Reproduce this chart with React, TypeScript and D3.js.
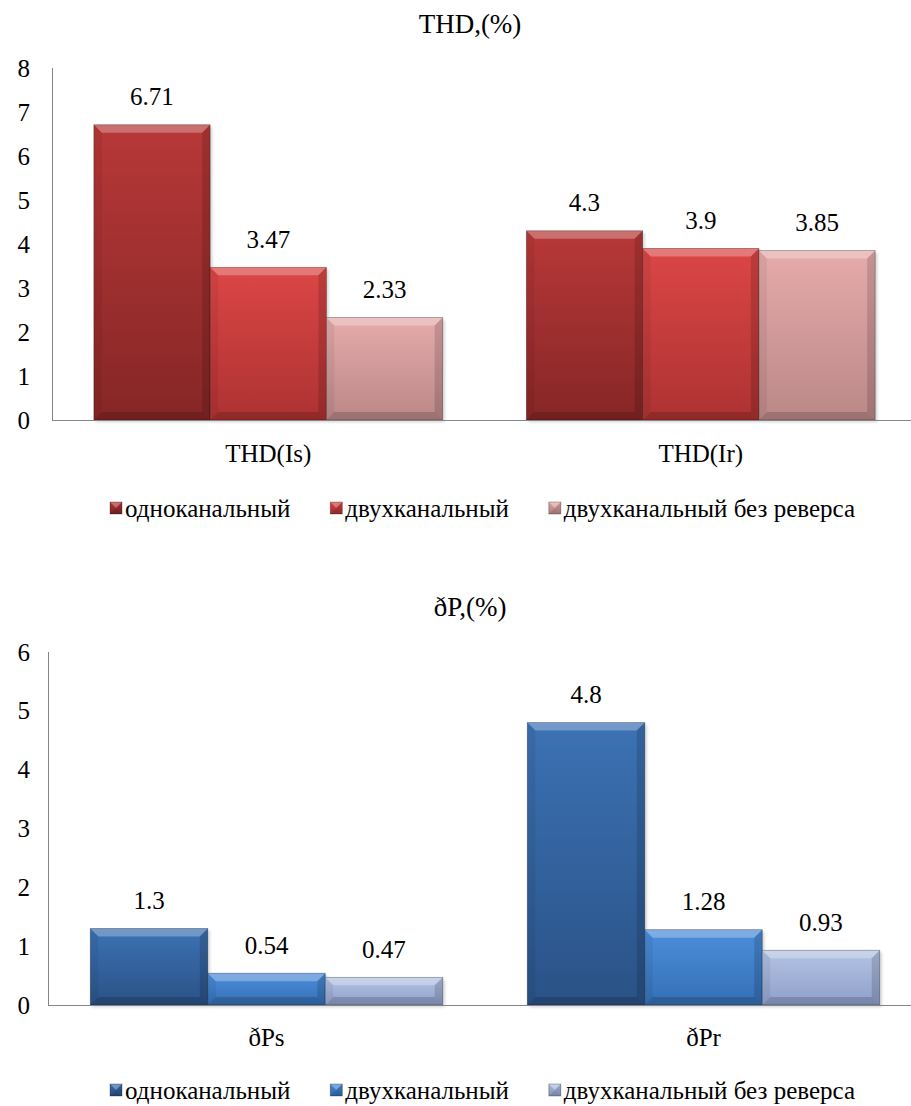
import React from 'react';
import * as d3 from 'd3';

const seriesNames = ['одноканальный', 'двухканальный', 'двухканальный без реверса'];

const thdTitle = 'THD,(%)';
const thdCategories = ['THD(Is)', 'THD(Ir)'];
const thdSingle = [6.71, 4.3];
const thdDual = [3.47, 3.9];
const thdDualNoReverse = [2.33, 3.85];
const thdTicks = [0, 1, 2, 3, 4, 5, 6, 7, 8];

const dpTitle = 'ðP,(%)';
const dpCategories = ['ðPs', 'ðPr'];
const dpSingle = [1.3, 4.8];
const dpDual = [0.54, 1.28];
const dpDualNoReverse = [0.47, 0.93];
const dpTicks = [0, 1, 2, 3, 4, 5, 6];

const redPalette = [
  ['#b83838', '#862626'],
  ['#dc4646', '#ad3232'],
  ['#e6abab', '#bb8787'],
];
const bluePalette = [
  ['#3c72b4', '#2a5286'],
  ['#4c8edb', '#346fb5'],
  ['#b4c4e4', '#8e9fca'],
];

const FONT =
  "'Liberation Serif', 'Times New Roman', Times, Tinos, 'Nimbus Roman', 'DejaVu Serif', 'Noto Serif', serif";

const LEGEND_SIZE = 25;

function measure(text: string, size: number): number {
  if (typeof document === 'undefined') return text.length * size * 0.5;
  const c = document.createElement('canvas');
  const ctx = c.getContext('2d');
  if (!ctx) return text.length * size * 0.5;
  ctx.font = `${size}px ${FONT}`;
  return ctx.measureText(text).width;
}

type Layout = {
  titleY: number;
  top: number;
  bottom: number;
  x0: number;
  x1: number;
  catY: number;
  legendY: number;
};

function BevelBar({ x, y, w, h, grad, id, shadow = true }: { x: number; y: number; w: number; h: number; grad: string[]; id: string; shadow?: boolean }) {
  const b = Math.min(8, h / 2, w / 2);
  return (
    <g>
      <defs>
        <linearGradient id={id} x1="0" y1="0" x2="0" y2="1">
          <stop offset="0" stopColor={grad[0]} />
          <stop offset="1" stopColor={grad[1]} />
        </linearGradient>
      </defs>
      {shadow && <rect x={x + 2} y={y + 2} width={w} height={h} fill="#000" opacity={0.18} filter="url(#shadowBlur)" />}
      <rect x={x} y={y} width={w} height={h} fill={`url(#${id})`} />
      <polygon points={`${x},${y} ${x + w},${y} ${x + w - b},${y + b} ${x + b},${y + b}`} fill="#fff" opacity={0.28} />
      <polygon points={`${x},${y} ${x + b},${y + b} ${x + b},${y + h - b} ${x},${y + h}`} fill="#000" opacity={0.06} />
      <polygon points={`${x + w},${y} ${x + w - b},${y + b} ${x + w - b},${y + h - b} ${x + w},${y + h}`} fill="#000" opacity={0.14} />
      <polygon points={`${x},${y + h} ${x + b},${y + h - b} ${x + w - b},${y + h - b} ${x + w},${y + h}`} fill="#000" opacity={0.16} />
      <rect x={x} y={y} width={w} height={h} fill="none" stroke="#000" strokeOpacity={0.35} strokeWidth={0.8} />
    </g>
  );
}

function Chart({
  title,
  categories,
  values,
  ticks,
  layout,
  palette,
  prefix,
}: {
  title: string;
  categories: string[];
  values: number[][];
  ticks: number[];
  layout: Layout;
  palette: string[][];
  prefix: string;
}) {
  const xCat = d3.scaleBand<string>().domain(categories).range([layout.x0, layout.x1]).paddingInner(0).paddingOuter(0);
  const xSer = d3
    .scaleBand<string>()
    .domain(seriesNames)
    .range([0, xCat.bandwidth()])
    .paddingInner(0)
    .paddingOuter(0.36);
  const y = d3.scaleLinear().domain([0, d3.max(ticks) as number]).range([layout.bottom, layout.top]);
  const ts: React.CSSProperties = { fontFamily: FONT };

  // legend layout: marker + text, items separated by gap, starting at left
  const widths = seriesNames.map((s) => measure(s, LEGEND_SIZE));
  const markerW = 12;
  const markerGap = 3;
  const totalSpan = 855 - 110;
  const itemsW = widths.reduce((a, b) => a + b, 0) + seriesNames.length * (markerW + markerGap);
  const gap = Math.max(12, (totalSpan - itemsW) / (seriesNames.length - 1));
  const legendX: number[] = [];
  let cx = 110;
  widths.forEach((w) => {
    legendX.push(cx);
    cx += markerW + markerGap + w + gap;
  });

  return (
    <g fill="#000">
      <text x={470} y={layout.titleY} fontSize={27} textAnchor="middle" dominantBaseline="central" style={ts}>
        {title}
      </text>
      {ticks.map((t) => (
        <text key={t} x={30} y={y(t)} fontSize={25} textAnchor="end" dominantBaseline="central" style={ts}>
          {t}
        </text>
      ))}
      {categories.map((c, ci) =>
        seriesNames.map((s, si) => {
          const v = values[si][ci];
          const bx = (xCat(c) as number) + (xSer(s) as number);
          const by = y(v);
          const bw = xSer.bandwidth();
          const bh = y(0) - y(v);
          return (
            <g key={`${c}-${s}`}>
              <BevelBar x={bx} y={by} w={bw} h={bh} grad={palette[si]} id={`${prefix}-g-${ci}-${si}`} />
            </g>
          );
        })
      )}
      {categories.map((c, ci) =>
        seriesNames.map((s, si) => {
          const v = values[si][ci];
          const bx = (xCat(c) as number) + (xSer(s) as number) + xSer.bandwidth() / 2;
          return (
            <text key={`l-${c}-${s}`} x={bx} y={y(v) - 28} fontSize={25} textAnchor="middle" dominantBaseline="central" style={ts}>
              {String(v)}
            </text>
          );
        })
      )}
      <line x1={layout.x0 + 0.5} x2={layout.x0 + 0.5} y1={layout.top} y2={layout.bottom} stroke="#868686" strokeWidth={1} />
      <line x1={layout.x0} x2={911} y1={layout.bottom + 0.5} y2={layout.bottom + 0.5} stroke="#868686" strokeWidth={1.2} />
      {categories.map((c) => (
        <text
          key={`c-${c}`}
          x={(xCat(c) as number) + xCat.bandwidth() / 2}
          y={layout.catY}
          fontSize={25}
          textAnchor="middle"
          dominantBaseline="central"
          style={ts}
        >
          {c}
        </text>
      ))}
      {seriesNames.map((s, si) => {
        const lx = legendX[si];
        return (
          <g key={`lg-${s}`}>
            <BevelBar x={lx} y={layout.legendY - 6} w={markerW} h={12} grad={palette[si]} id={`${prefix}-lg-${si}`} shadow={false} />
            <text x={lx + markerW + markerGap} y={layout.legendY} fontSize={LEGEND_SIZE} dominantBaseline="central" style={ts}>
              {s}
            </text>
          </g>
        );
      })}
    </g>
  );
}

export default function App() {
  const thdValues = [thdSingle, thdDual, thdDualNoReverse];
  const dpValues = [dpSingle, dpDual, dpDualNoReverse];
  return (
    <svg
      width={911}
      height={1106}
      viewBox="0 0 911 1106"
      style={{ position: 'absolute', left: 0, top: 0, background: '#fff', fontFamily: FONT }}
    >
      <defs>
        <filter id="shadowBlur" x="-10%" y="-10%" width="120%" height="120%">
          <feGaussianBlur stdDeviation="1.5" />
        </filter>
      </defs>
      <rect x={0} y={0} width={911} height={1106} fill="#fff" />
      <Chart
        title={thdTitle}
        categories={thdCategories}
        values={thdValues}
        ticks={thdTicks}
        layout={{ titleY: 24, top: 68, bottom: 420, x0: 52, x1: 917, catY: 453, legendY: 508 }}
        palette={redPalette}
        prefix="thd"
      />
      <Chart
        title={dpTitle}
        categories={dpCategories}
        values={dpValues}
        ticks={dpTicks}
        layout={{ titleY: 607, top: 652, bottom: 1005, x0: 48, x1: 922, catY: 1037, legendY: 1090 }}
        palette={bluePalette}
        prefix="dp"
      />
    </svg>
  );
}
